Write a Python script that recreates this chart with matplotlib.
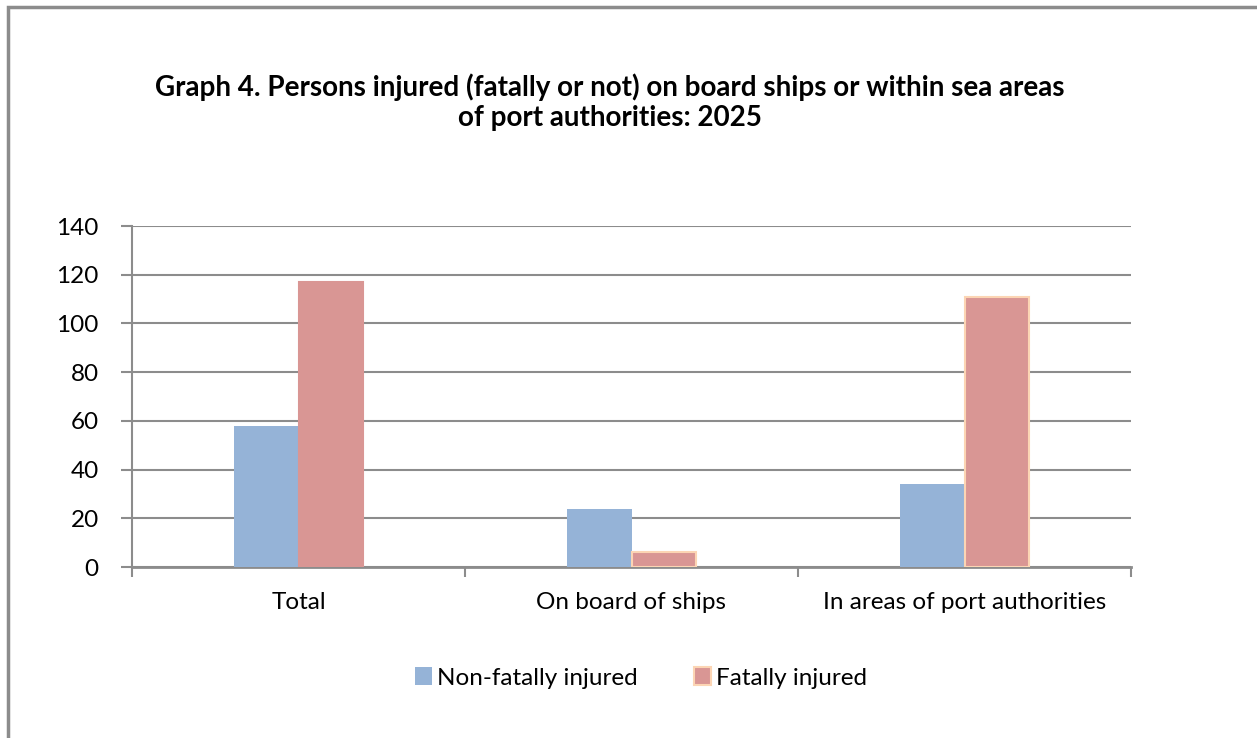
import matplotlib.pyplot as plt
import numpy as np
from matplotlib.patches import Rectangle

plt.rcParams['font.family'] = ['Lato', 'DejaVu Sans']

categories = ['Total', 'On board of ships', 'In areas of port authorities']
non_fatal = [58, 24, 34]
fatal = [117, 6, 111]
series_names = ['Non-fatally injured', 'Fatally injured']

blue = '#95B3D7'
red = '#D99694'
peach = '#FCD5B4'
grid_col = '#8C8C8C'

fig = plt.figure(figsize=(12.57, 7.38), dpi=100)

# outer frame of the chart area
fig.patches.append(Rectangle((8 / 1257, -0.1), 1.2, 1 - 7 / 738 + 0.1,
                             transform=fig.transFigure, fill=False,
                             edgecolor='#8C8C8C', linewidth=2.5))

ax = fig.add_axes([132 / 1257, 1 - 567 / 738, (1131 - 132) / 1257, (567 - 226) / 738])

x = np.arange(len(categories))
w = 0.195
ax.bar(x - w / 2, non_fatal, w, color=blue, label=series_names[0], zorder=3)
fatal_edges = [red, peach, peach]
bars = ax.bar(x + w / 2, fatal, w, color=red, label=series_names[1], zorder=3)
for b, ec in zip(bars, fatal_edges):
    b.set_edgecolor(ec)
    b.set_linewidth(1.5)

ax.set_xlim(-0.5, len(categories) - 0.5)
ax.set_ylim(0, 140)
ax.set_yticks(range(0, 141, 20))
ax.yaxis.grid(True, color=grid_col, linewidth=1.5, zorder=0)
ax.set_axisbelow(True)

ax.set_xticks([-0.5, 0.5, 1.5, 2.5], minor=False)
ax.set_xticklabels([])
ax.set_xticks(x, minor=True)
ax.set_xticklabels(categories, minor=True, fontsize=17.5)
ax.tick_params(axis='x', which='minor', length=0, pad=18)
ax.tick_params(axis='x', which='major', length=7, width=1.5, color=grid_col, direction='out')
ax.tick_params(axis='y', length=8, width=1.5, color=grid_col, labelsize=17.5, pad=16)

for s in ['top', 'right']:
    ax.spines[s].set_visible(False)
ax.spines['left'].set_color(grid_col)
ax.spines['left'].set_linewidth(1.5)
ax.spines['bottom'].set_color(grid_col)
ax.spines['bottom'].set_linewidth(2)

fig.text(610 / 1257, 1 - 102 / 738,
         'Graph 4. Persons injured (fatally or not) on board ships or within sea areas\nof port authorities: 2025',
         ha='center', va='center', fontsize=20, fontweight='bold', linespacing=1.2)

leg = ax.legend(loc='center', bbox_to_anchor=(641 / 1257, 1 - 678 / 738),
                bbox_transform=fig.transFigure, ncol=2, frameon=False, fontsize=17.5,
                handlelength=0.7, handleheight=0.7, handletextpad=0.2, columnspacing=2.35)
leg.legend_handles[1].set_edgecolor(peach)

fig.savefig('out.png', dpi=100)
